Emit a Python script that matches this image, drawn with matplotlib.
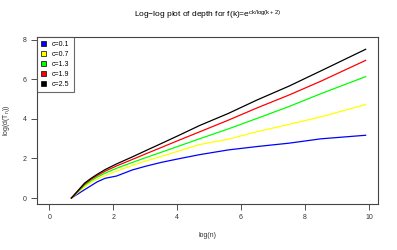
import matplotlib
matplotlib.use("Agg")
import matplotlib.pyplot as plt
from matplotlib.patches import Patch

plt.rcParams['font.family'] = ['Liberation Sans', 'DejaVu Sans']
plt.rcParams['mathtext.fontset'] = 'custom'
plt.rcParams['mathtext.rm'] = 'Liberation Sans'
plt.rcParams['mathtext.it'] = 'Liberation Sans'

# log(n) sample points and log depth for each c
log_n = [0.69, 1.1, 1.3, 1.5, 1.75, 2.1, 2.6, 3.0, 3.5, 4.1, 4.7, 5.6, 6.5, 7.5, 8.5, 9.9]
c_01 = [0, 0.42, 0.62, 0.82, 1.00, 1.11, 1.42, 1.60, 1.80, 2.00, 2.19, 2.43, 2.60, 2.77, 2.99, 3.17]
c_07 = [0, 0.56, 0.78, 0.96, 1.13, 1.36, 1.65, 1.86, 2.10, 2.40, 2.70, 2.97, 3.35, 3.72, 4.10, 4.72]
c_13 = [0, 0.64, 0.87, 1.06, 1.26, 1.50, 1.80, 2.03, 2.31, 2.65, 2.99, 3.49, 4.02, 4.62, 5.27, 6.13]
c_19 = [0, 0.70, 0.94, 1.14, 1.36, 1.62, 1.95, 2.22, 2.55, 2.95, 3.34, 3.93, 4.55, 5.20, 5.90, 6.95]
c_25 = [0, 0.75, 0.99, 1.20, 1.44, 1.72, 2.08, 2.38, 2.75, 3.20, 3.66, 4.27, 4.95, 5.65, 6.42, 7.51]

series = [c_01, c_07, c_13, c_19, c_25]
labels = ['c=0.1', 'c=0.7', 'c=1.3', 'c=1.9', 'c=2.5']
colors = ['#0000ff', '#ffff00', '#00ff00', '#ff0000', '#000000']

fig = plt.figure(figsize=(3.97, 2.5), dpi=100)
ax = fig.add_axes([0.0924, 0.184, 0.8605, 0.668])

for ys, col in zip(series, colors):
    ax.plot(log_n, ys, color=col, lw=0.9)

ax.set_xlim(-0.396, 10.296)
ax.set_ylim(-0.3, 8.13)
ax.set_xticks([0, 2, 4, 6, 8, 10])
ax.set_yticks([0, 2, 4, 6, 8])
ax.tick_params(labelsize=5, length=4, width=0.6, color='#333333',
               labelcolor='#333333', pad=3)
for s in ax.spines.values():
    s.set_color('#444444')
    s.set_linewidth(0.8)

ax.set_xlabel('log(n)', fontsize=5, color='#333333', labelpad=8)
ax.set_ylabel(r'log(d(T$_\mathrm{n}$))', fontsize=5, color='#333333', labelpad=8)
fig.suptitle(r'Log$-$log plot of depth for f(k)=e$^{\mathrm{ck/log(k+2)}}$',
             fontsize=6, x=0.522, y=0.965)

handles = [Patch(facecolor=c, edgecolor='black', linewidth=0.5) for c in colors]
leg = ax.legend(handles, labels, loc='upper left', fontsize=5,
                borderaxespad=0, fancybox=False, handlelength=0.8,
                handleheight=0.8, handletextpad=0.8, labelspacing=0.4,
                borderpad=0.6)
leg.get_frame().set_edgecolor('#444444')
leg.get_frame().set_linewidth(0.8)

fig.savefig('out.png', dpi=100)
